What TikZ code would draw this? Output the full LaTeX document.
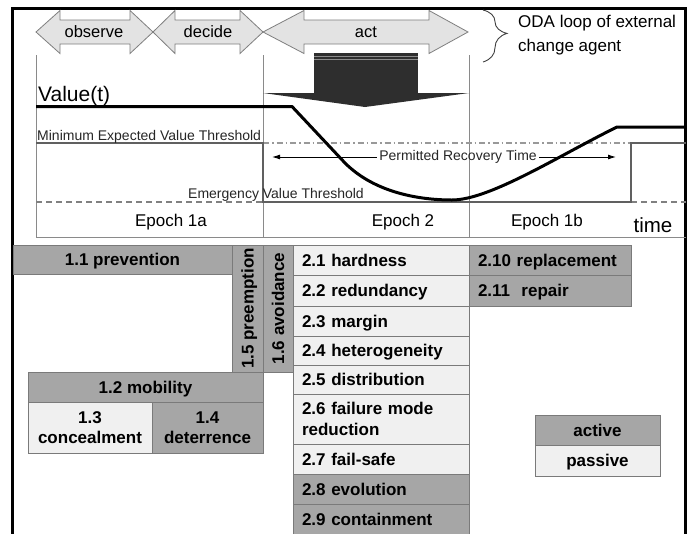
\documentclass[tikz,border=0pt]{standalone}
\usepackage{fontspec}
\setmainfont{Liberation Sans}
\usetikzlibrary{arrows.meta,decorations.pathreplacing}
\definecolor{darkfill}{HTML}{A6A6A6}
\definecolor{lightfill}{HTML}{F0F0F0}
\definecolor{cellline}{HTML}{7A7A7A}
\definecolor{odafill}{HTML}{E3E3E3}
\definecolor{odaline}{HTML}{7F7F7F}
\definecolor{axisgray}{HTML}{8A8A8A}
\definecolor{stepgray}{HTML}{606060}
\definecolor{blockdark}{HTML}{2E2E2E}
\newcommand\cellfont{\bfseries\fontsize{17}{20.5}\selectfont}
\newcommand\odaarrow[6]{\filldraw[odashape] (#1,32) -- (#2,10.5) -- (#2,#5) -- (#3,#5) -- (#3,10.5) -- (#4,32) -- (#3,53.5) -- (#3,#6) -- (#2,#6) -- (#2,53.5) -- cycle;}
\tikzset{
  odashape/.style={fill=odafill, draw=odaline, line width=0.8pt, line join=miter},
  odatext/.style={font=\fontsize{16.5}{18}\selectfont, inner sep=0pt},
  thr/.style={font=\fontsize{14}{16}\selectfont, inner sep=0pt, text=black!85},
  epochtext/.style={font=\fontsize{17}{19}\selectfont, inner sep=0pt},
  axisline/.style={draw=axisgray, line width=0.9pt},
  stepline/.style={draw=stepgray, line width=2pt},
  dashdotline/.style={draw=black!40, line width=1.1pt, dash pattern=on 6pt off 3pt on 1.5pt off 3pt},
  dashthr/.style={draw=black!50, line width=1.2pt, dash pattern=on 6pt off 4pt},
  valueline/.style={draw=black, line width=3pt, line join=round},
  prarrow/.style={draw=black, line width=0.9pt, -{Latex[length=8pt,width=5pt]}},
  cellbase/.style={draw=cellline, line width=0.8pt, anchor=north west, inner ysep=0pt, outer sep=0pt, font=\cellfont},
  dk/.style={cellbase, fill=darkfill},
  lt/.style={cellbase, fill=lightfill},
  oneline/.style={text height=12.2pt, text depth=0pt},
  lefttext/.style={text width=#1, align=left, inner xsep=9pt},
  centertext/.style={align=center, inner xsep=0pt},
}
\begin{document}
\begin{tikzpicture}[x=1pt,y=-1pt]
\useasboundingbox (0,0) rectangle (693,533);
\clip (0,0) rectangle (693,533);
\fill[white] (0,0) rectangle (693,533);

% frame
\draw[line width=3pt] (12.5,560) -- (12.5,8.5) -- (685.5,8.5) -- (685.5,560);

% ODA arrows
\odaarrow{36}{60}{130}{153}{20}{44}
\odaarrow{153}{175}{240}{263}{20}{44}
\odaarrow{263}{304}{429}{468}{20}{44}
\node[odatext] (obs) at (94,32) {observe};
\node[odatext] (dec) at (208,32) {decide};
\node[odatext] (act) at (366,32) {act};

% brace and ODA text
\draw[draw=black!75, line width=0.9pt, decorate, decoration={brace, amplitude=24pt, aspect=0.45}] (483,10) -- (483,62);
\node[anchor=west, align=left, inner sep=0pt, font=\fontsize{17}{23.5}\selectfont] (oda) at (518,35) {ODA loop of external\\change agent};

% axes and epoch separators
\draw[axisline] (36,55) -- (36,237.5) -- (686,237.5);
\draw[axisline] (263,55) -- (263,237.5);
\draw[axisline] (469,55) -- (469,237.5);

% thresholds
\draw[dashdotline] (263,143) -- (631,143);
\draw[dashthr] (36,202) -- (263,202);
\draw[dashthr] (631,202) -- (686,202);
\draw[stepline] (36,143) -- (263,143) -- (263,202) -- (631,202) -- (631,143) -- (686,143);

% big block arrow
\fill[blockdark] (263,93) -- (469,93) -- (365,107) -- cycle;
\fill[blockdark] (314,53) rectangle (418,94);
\draw[black!45, line width=0.8pt] (314,56.3) -- (418,56.3);
\draw[black!45, line width=0.8pt] (314,59.8) -- (418,59.8);

% value curve
\draw[valueline] (36,106.5) -- (292,106.5) -- (345,163) .. controls (375,193) and (420,200) .. (452,200) .. controls (490,200) and (560,155) .. (617,127) -- (686,127);

% labels
\node[anchor=base west, inner sep=0pt, font=\fontsize{21}{23}\selectfont] (val) at (38,101.5) {Value(t)};
\node[thr, anchor=base west] (minthr) at (37,140) {Minimum Expected Value Threshold};
\node[thr, anchor=base west] (emthr) at (188,198.5) {Emergency Value Threshold};
\node[thr, inner xsep=2.5pt] (prt) at (458,157) {Permitted Recovery Time};
\coordinate (prL) at (272,157);
\coordinate (prR) at (616,157);
\draw[prarrow] (prt.west) -- (prL);
\draw[prarrow] (prt.east) -- (prR);

\node[epochtext, anchor=base] (e1a) at (171,226) {Epoch 1a};
\node[epochtext, anchor=base] (e2) at (403,226) {Epoch 2};
\node[epochtext, anchor=base] (e1b) at (547,226) {Epoch 1b};
\node[anchor=base, inner sep=0pt, font=\fontsize{20.5}{22}\selectfont] (time) at (653,232.5) {time};

% strategy table
\node[dk, oneline, centertext, minimum width=219, minimum height=29] (c11) at (13,245) {1.1 prevention};
\node[dk, oneline, anchor=center, rotate=90, inner sep=0pt, minimum width=127, minimum height=31] (c15) at (247.5,308.5) {1.5 preemption};
\node[dk, oneline, anchor=center, rotate=90, inner sep=0pt, minimum width=127, minimum height=30] (c16) at (278,308.5) {1.6 avoidance};

\node[lt, oneline, lefttext=158, minimum height=30.5] (c21) at (293,245) {2.1 hardness};
\node[lt, oneline, lefttext=158, minimum height=30.5] (c22) at (293,275.5) {2.2 redundancy};
\node[lt, oneline, lefttext=158, minimum height=30.5] (c23) at (293,306) {2.3 margin};
\node[lt, oneline, lefttext=158, minimum height=28.5] (c24) at (293,336.5) {2.4 heterogeneity};
\node[lt, oneline, lefttext=158, minimum height=29] (c25) at (293,365) {2.5 distribution};
\node[lt, lefttext=158, minimum height=50] (c26) at (293,394) {2.6 failure mode\\reduction};
\node[lt, oneline, lefttext=158, minimum height=30] (c27) at (293,444) {2.7 fail-safe};
\node[dk, oneline, lefttext=158, minimum height=30] (c28) at (293,474) {2.8 evolution};
\node[dk, oneline, lefttext=158, minimum height=30] (c29) at (293,504) {2.9 containment};

\node[dk, oneline, lefttext=144, minimum height=30.5] (c210) at (469,245) {2.10 replacement};
\node[dk, oneline, lefttext=144, minimum height=30.5] (c211) at (469,275.5) {2.11\ \ repair};

\node[dk, oneline, centertext, minimum width=235, minimum height=30.5] (c12) at (28,372) {1.2 mobility};
\node[lt, centertext, minimum width=124, minimum height=50.5] (c13) at (28,402.5) {1.3\\concealment};
\node[dk, centertext, minimum width=111, minimum height=50.5] (c14) at (152,402.5) {1.4\\deterrence};

% legend
\node[dk, oneline, centertext, minimum width=125, minimum height=30] (act2) at (535,415) {active};
\node[lt, oneline, centertext, minimum width=125, minimum height=31] (pas) at (535,445) {passive};
\end{tikzpicture}
\end{document}
